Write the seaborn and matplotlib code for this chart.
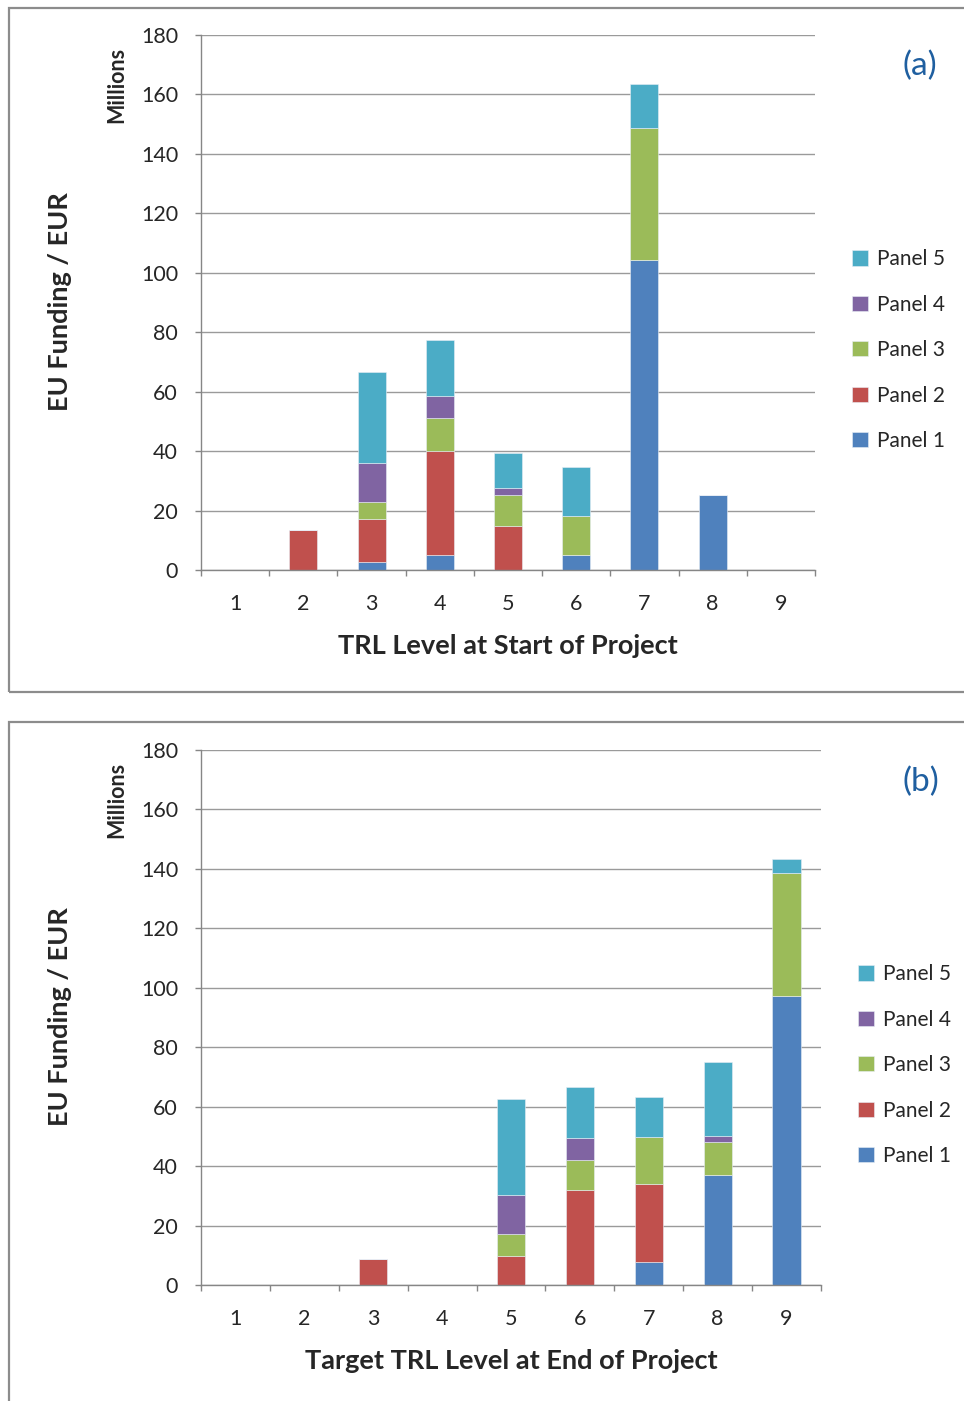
import matplotlib
matplotlib.use("Agg")
import matplotlib.pyplot as plt
from matplotlib.patches import Rectangle
import numpy as np
import pandas as pd
import seaborn as sns

sns.set_theme(style="white")
plt.rcParams["font.family"] = ["Lato", "DejaVu Sans"]

# TRL levels 1..9, EU funding in millions of EUR per evaluation panel
trl_levels = [1, 2, 3, 4, 5, 6, 7, 8, 9]
panels = ["Panel 5", "Panel 4", "Panel 3", "Panel 2", "Panel 1"]
colors = {"Panel 1": "#4F81BD", "Panel 2": "#C0504D", "Panel 3": "#9BBB59",
          "Panel 4": "#8064A2", "Panel 5": "#4BACC6"}

# (a) TRL level at start of project
start_p1 = [0, 0, 2.7, 5.1, 0, 5.1, 104.3, 25.2, 0]
start_p2 = [0, 13.3, 14.3, 34.8, 14.9, 0, 0, 0, 0]
start_p3 = [0, 0, 6.0, 11.3, 10.5, 13.1, 44.5, 0, 0]
start_p4 = [0, 0, 13.1, 7.5, 2.2, 0, 0, 0, 0]
start_p5 = [0, 0, 30.6, 18.7, 11.8, 16.6, 14.6, 0, 0]

# (b) target TRL level at end of project
end_p1 = [0, 0, 0, 0, 0, 0, 7.6, 36.9, 97.4]
end_p2 = [0, 0, 8.7, 0, 9.9, 32.0, 26.5, 0, 0]
end_p3 = [0, 0, 0, 0, 7.3, 10.2, 15.6, 11.1, 41.2]
end_p4 = [0, 0, 0, 0, 13.1, 7.1, 0, 2.0, 0]
end_p5 = [0, 0, 0, 0, 32.2, 17.4, 13.7, 24.9, 4.8]

y_ticks = list(range(0, 181, 20))


def long_form(p1, p2, p3, p4, p5):
    rows = []
    for name, vals in zip(["Panel 1", "Panel 2", "Panel 3", "Panel 4", "Panel 5"],
                          [p1, p2, p3, p4, p5]):
        for lvl, v in zip(trl_levels, vals):
            rows.append({"trl": lvl, "panel": name, "funding": v})
    return pd.DataFrame(rows)


def draw_panel(ax, df, xlabel, tag, lab_y, tag_xy):
    sns.histplot(data=df, x="trl", weights="funding", hue="panel",
                 hue_order=panels, palette=colors, multiple="stack",
                 discrete=True, shrink=0.41, alpha=1, linewidth=0.4,
                 edgecolor="#e8eef5", ax=ax)
    ax.set_xlim(0.5, 9.5)
    ax.set_ylim(0, 180)
    ax.set_yticks(y_ticks)
    ax.set_xticks(trl_levels)
    ax.set_xticks(np.arange(0.5, 10, 1), minor=True)
    ax.tick_params(axis="x", which="major", length=0, pad=17, labelsize=15.5)
    ax.tick_params(axis="x", which="minor", length=4.5, width=1,
                   color="#868686", direction="out", bottom=True)
    ax.tick_params(axis="y", length=4.5, width=1, color="#868686",
                   direction="out", left=True, pad=12, labelsize=15.5)
    ax.yaxis.grid(True, color="#9a9a9a", linewidth=1)
    ax.set_axisbelow(True)
    for s in ["top", "right"]:
        ax.spines[s].set_visible(False)
    for s in ["left", "bottom"]:
        ax.spines[s].set_color("#868686")
        ax.spines[s].set_linewidth(1)
    ax.set_xlabel(xlabel, fontsize=19.5, fontweight="bold", labelpad=15)
    ax.set_ylabel("")
    fig.text(60 / 964, 1 - lab_y / 1401, "EU Funding / EUR", rotation=90,
             ha="center", va="center", fontsize=19.5, fontweight="bold")
    fig.text(117 / 964, 1 - (lab_y - 217) / 1401, "Millions", rotation=90,
             ha="center", va="center", fontsize=15.5, fontweight="bold")
    fig.text(tag_xy[0] / 964, 1 - tag_xy[1] / 1401, tag, ha="center",
             va="center", fontsize=24, color="#1F5FA0")
    sns.move_legend(ax, loc="center left", title=None, frameon=False,
                    bbox_to_anchor=(1.03, 0.411), fontsize=15,
                    labelspacing=1.22, handlelength=0.75, handleheight=0.75,
                    handletextpad=0.45)


fig = plt.figure(figsize=(9.64, 14.01), dpi=100)

# grey frames around each chart, running off the right/bottom edge
fig.patches.append(Rectangle((9 / 964, 1 - 692 / 1401), 1.2, (692 - 8) / 1401,
                             transform=fig.transFigure, fill=False,
                             edgecolor="#8c8c8c", linewidth=1.6))
fig.patches.append(Rectangle((9 / 964, -0.2), 1.2, 0.2 + (1401 - 722) / 1401,
                             transform=fig.transFigure, fill=False,
                             edgecolor="#8c8c8c", linewidth=1.6))

ax_a = fig.add_axes([201 / 964, 1 - 570 / 1401, 614 / 964, 535 / 1401])
ax_b = fig.add_axes([201 / 964, 1 - 1285 / 1401, 620 / 964, 535 / 1401])

draw_panel(ax_a, long_form(start_p1, start_p2, start_p3, start_p4, start_p5),
           "TRL Level at Start of Project", "(a)", 302, (920, 66))
draw_panel(ax_b, long_form(end_p1, end_p2, end_p3, end_p4, end_p5),
           "Target TRL Level at End of Project", "(b)", 1017, (921, 782))

fig.savefig("out.png", dpi=100)
